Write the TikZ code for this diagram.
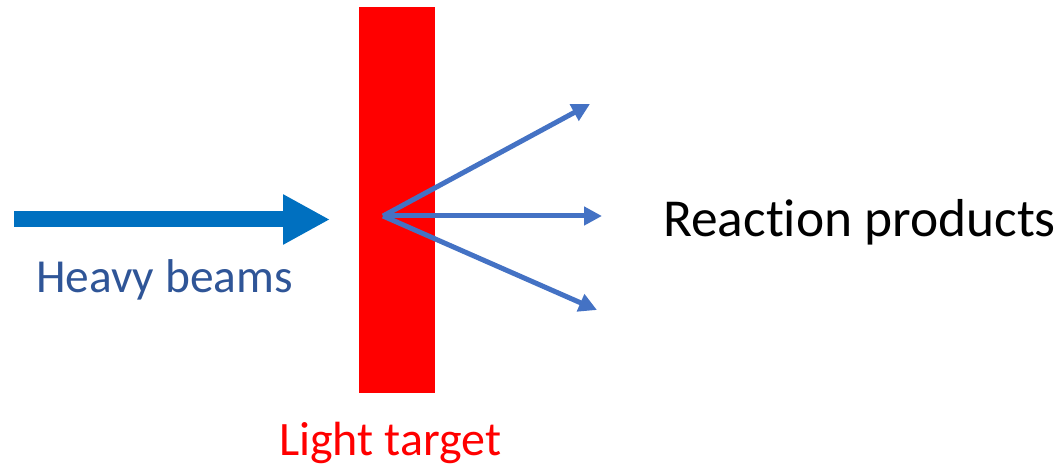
\documentclass[tikz,border=0pt]{standalone}
\usepackage{fontspec}
\setmainfont{Carlito}[Ligatures={NoCommon,NoRare}]
\usetikzlibrary{arrows.meta}
\definecolor{beamblue}{HTML}{0070C0}
\definecolor{fanblue}{HTML}{4472C4}
\definecolor{labelblue}{HTML}{2F5597}
\begin{document}
\begin{tikzpicture}[x=1pt,y=-1pt,
  lbl/.style={inner sep=0pt,anchor=base west,font=\fontsize{48}{56}\selectfont},
  fanarrow/.style={draw=fanblue,line width=5pt,-{Triangle[length=18pt,width=18pt]}},
  beamarrow/.style={draw=beamblue,line width=16pt,-{Triangle[length=47pt,width=47pt]}}]
\useasboundingbox (0,0) rectangle (1061,465);
\node[fill=red,draw=none,inner sep=0pt,minimum width=76pt,minimum height=386pt,anchor=north west] (target) at (359,7) {};
\coordinate (beamstart) at (14,219.5);
\coordinate (beamtip) at (330,219.5);
\draw[beamarrow] (beamstart) -- (beamtip);
\coordinate (origin) at (383,216);
\coordinate (tipup) at (590,104);
\coordinate (tipmid) at (602,216);
\coordinate (tipdown) at (597,310);
\draw[fanarrow] (origin) -- (tipup);
\draw[fanarrow] (origin) -- (tipmid);
\draw[fanarrow] (origin) -- (tipdown);
\node[lbl,text=labelblue,font=\fontsize{47.4}{56}\selectfont] (heavy) at (36,293) {Heavy beams};
\node[lbl,text=black,font=\fontsize{53.4}{60}\selectfont] (products) at (663,237) {Reaction products};
\node[lbl,text=red] (light) at (279,455) {Light target};
\end{tikzpicture}
\end{document}
